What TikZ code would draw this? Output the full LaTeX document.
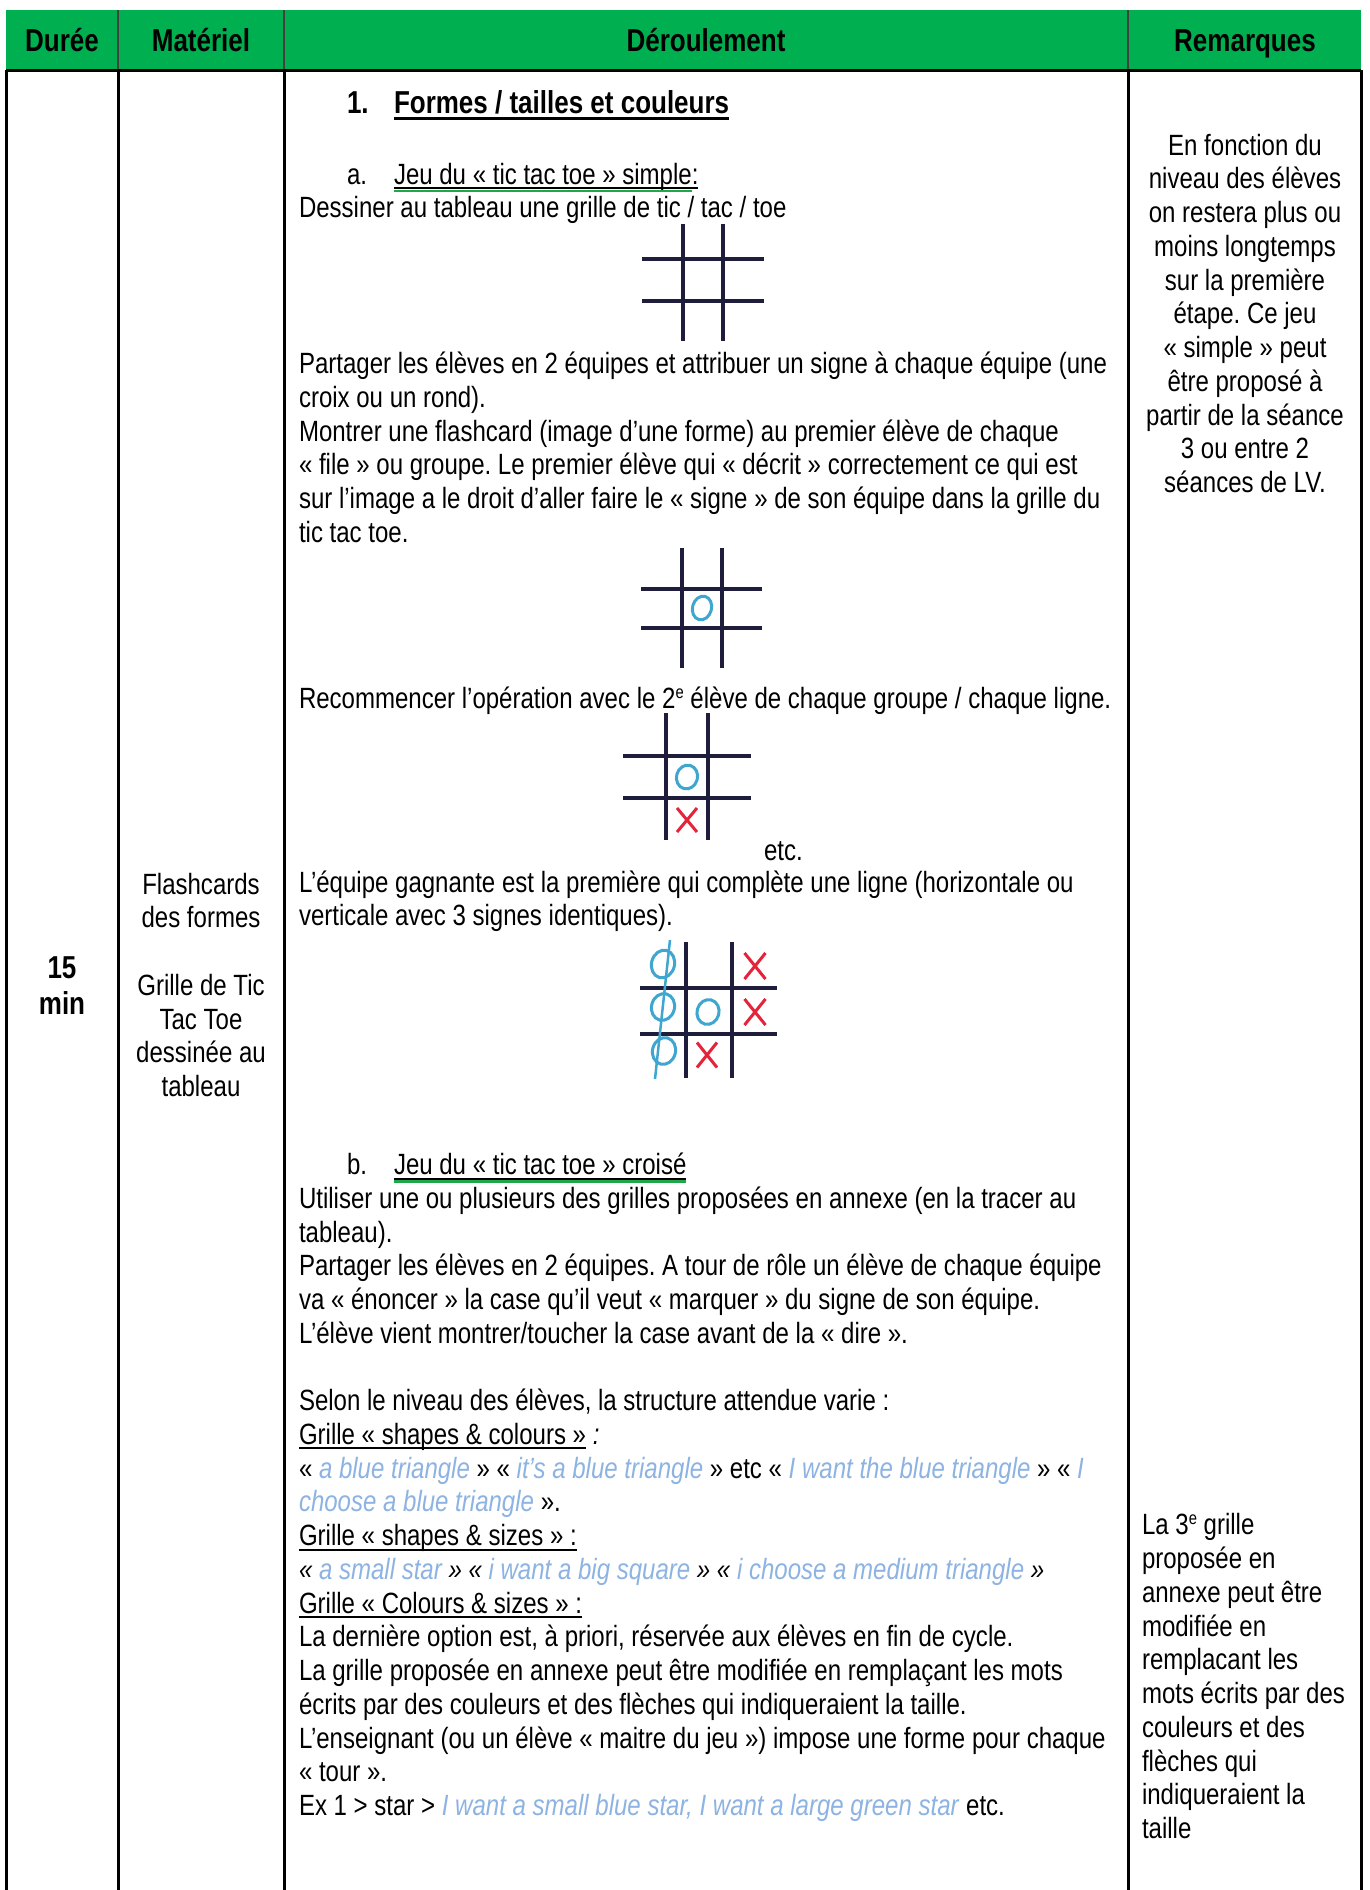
\documentclass[tikz,border=0pt]{standalone}
\usepackage{fontspec}
\setmainfont{Liberation Sans}[FakeStretch=0.82]
\frenchspacing
\definecolor{hdrgreen}{HTML}{00B050}
\definecolor{lblue}{HTML}{8DB3E2}
\definecolor{gridc}{HTML}{1E1E3C}
\definecolor{ringc}{HTML}{3FA6CF}
\definecolor{crossc}{HTML}{E3243B}
\definecolor{squig}{HTML}{1FA84A}
\newcommand\ulx[1]{\setbox0\hbox{#1}\rlap{\vrule width\wd0 height -3pt depth 5pt}\box0}
\newcommand\ulxb[1]{\setbox0\hbox{#1}\rlap{\vrule width\wd0 height -3.5pt depth 6.5pt}\box0}
\newcommand\lbt[1]{\textcolor{lblue}{\textit{#1}}}
\newcommand\supe{\raisebox{10.5pt}{\fontsize{18}{18}\selectfont e}}
\tikzset{
  body/.style={anchor=base west, inner sep=0pt, outer sep=0pt, yshift=-2.5pt, font=\fontsize{29.3}{33.7}\selectfont},
  bodyc/.style={body, anchor=base},
  boldh/.style={anchor=base, inner sep=0pt, outer sep=0pt, yshift=-2.5pt, font=\fontsize{31.7}{36.5}\selectfont\bfseries},
  border/.style={line width=3pt, black},
  hsep/.style={line width=1.2pt, black!75},
  gline/.style={draw=gridc, line width=3.5pt},
  ostyle/.style={draw=ringc, line width=3pt},
  xstyle/.style={draw=crossc, line width=3pt},
  squigline/.style={draw=squig, line width=2.2pt},
  pics/ringmark/.style 2 args={code={\draw[ostyle, rotate=-15] (0,0) ellipse [x radius=#1, y radius=#2];}},
  pics/crossmark/.style 2 args={code={\draw[xstyle] (-#1,-#2) -- (#1,#2) (#1,-#2) -- (-#1,#2);}}
}
\begin{document}
\begin{tikzpicture}[x=1pt,y=-1pt]
\useasboundingbox (0,0) rectangle (1370,1890);
\fill[white] (0,0) rectangle (1370,1890);
% header
\fill[hdrgreen] (6,10) rectangle (1361,70);
\draw[hsep] (118,10) -- (118,70) (284,10) -- (284,70) (1128,10) -- (1128,70);
\node[boldh] (hdur) at (62,48.5) {Durée};
\node[boldh] (hmat) at (201,48.5) {Matériel};
\node[boldh] (hder) at (706,48.5) {Déroulement};
\node[boldh] (hrem) at (1245,48.5) {Remarques};
% table lines
\draw[border] (6,70) -- (1361,70);
\draw[border] (6,70) -- (6,1890) (118,70) -- (118,1890) (284,70) -- (284,1890) (1128,70) -- (1128,1890) (1361,70) -- (1361,1890);
% Durée
\node[boldh] (d15) at (62,976) {15};
\node[boldh] (dmin) at (62,1012) {min};
% Matériel
\node[bodyc] (m1) at (201,891.5) {Flashcards};
\node[bodyc] (m2) at (201,925.2) {des formes};
\node[bodyc] (m3) at (201,992.7) {Grille de Tic};
\node[bodyc] (m4) at (201,1026.5) {Tac Toe};
\node[bodyc] (m5) at (201,1060.2) {dessinée au};
\node[bodyc] (m6) at (201,1094) {tableau};
% Remarques (top)
\foreach \t [count=\i from 0] in {En fonction du,niveau des élèves,on restera plus ou,moins longtemps,sur la première,étape. Ce jeu,« simple » peut,être proposé à,partir de la séance,3 ou entre 2,séances de LV.}
  \node[bodyc] (ra\i) at (1245,152.6+33.74*\i) {\t};
% Remarques (bottom)
\foreach \t [count=\i from 0] in {{La 3\supe{} grille},proposée en,annexe peut être,modifiée en,remplacant les,mots écrits par des,couleurs et des,flèches qui,indiqueraient la,taille}
  \node[body] (rb\i) at (1142,1532.3+33.74*\i) {\t};
% Déroulement - part 1
\node[boldh, anchor=base west] (h1n) at (347,111) {1.};
\node[boldh, anchor=base west] (h1t) at (394,111) {\ulxb{Formes / tailles et couleurs}};
\node[body] (han) at (347,181.5) {a.};
\node[body] (hat) at (394,181.5) {\ulx{Jeu du « tic tac toe » simple}};
\node[body, anchor=base west, yshift=2.5pt] (hac) at (hat.base east) {\ulx{:}};
\draw[squigline] ([yshift=-7pt]hat.base west) -- ([yshift=-7pt]hat.base east);
\node[body] (p0) at (299,215) {Dessiner au tableau une grille de tic / tac / toe};
\node[body] (p1) at (299,371) {Partager les élèves en 2 équipes et attribuer un signe à chaque équipe (une};
\node[body] (p2) at (299,404.7) {croix ou un rond).};
\node[body] (p3) at (299,438.5) {Montrer une flashcard (image d’une forme) au premier élève de chaque};
\node[body] (p4) at (299,472.2) {« file » ou groupe. Le premier élève qui « décrit » correctement ce qui est};
\node[body] (p5) at (299,506) {sur l’image a le droit d’aller faire le « signe » de son équipe dans la grille du};
\node[body] (p6) at (299,539.7) {tic tac toe.};
\node[body] (p7) at (299,706) {Recommencer l’opération avec le 2\supe{} élève de chaque groupe / chaque ligne.};
\node[body] (petc) at (764,858) {etc.};
\node[body] (p8) at (299,890) {L’équipe gagnante est la première qui complète une ligne (horizontale ou};
\node[body] (p9) at (299,923) {verticale avec 3 signes identiques).};
% grid 1
\draw[gline] (683,224) -- (683,341) (723,224) -- (723,341) (642,259) -- (764,259) (642,301) -- (764,301);
% grid 2
\draw[gline] (682,548) -- (682,668) (722,548) -- (722,668) (641,589) -- (762,589) (641,628) -- (762,628);
\pic at (702,608) {ringmark={9.5}{12}};
% grid 3
\draw[gline] (666,713) -- (666,840) (708,713) -- (708,840) (623,756) -- (751,756) (623,798) -- (751,798);
\pic at (687,777) {ringmark={10.5}{12}};
\pic at (687,820) {crossmark={10}{12}};
% grid 4
\draw[gline] (686,942) -- (686,1078) (732,942) -- (732,1078) (640,988) -- (777,988) (640,1034) -- (777,1034);
\pic at (663,964) {ringmark={11.5}{14}};
\pic at (663,1007) {ringmark={11.5}{13.5}};
\pic at (664,1051) {ringmark={11.5}{13.5}};
\pic at (708,1012) {ringmark={11}{12.5}};
\pic at (755,966) {crossmark={10.5}{13}};
\pic at (755,1012) {crossmark={10.5}{13}};
\pic at (707,1055) {crossmark={10}{12.5}};
\draw[ostyle, line width=2.5pt] (670,940) -- (655,1079);
% Déroulement - part b
\node[body] (hbn) at (347,1172) {b.};
\node[body] (hbt) at (394,1172) {\ulx{Jeu du « tic tac toe » croisé}};
\draw[squigline] ([yshift=-7pt]hbt.base west) -- ([yshift=-7pt]hbt.base east);
\node[body] (q1) at (299,1205.7) {Utiliser une ou plusieurs des grilles proposées en annexe (en la tracer au};
\node[body] (q2) at (299,1239.5) {tableau).};
\node[body] (q3) at (299,1273.2) {Partager les élèves en 2 équipes. A tour de rôle un élève de chaque équipe};
\node[body] (q4) at (299,1307) {va « énoncer » la case qu’il veut « marquer » du signe de son équipe.};
\node[body] (q5) at (299,1340.7) {L’élève vient montrer/toucher la case avant de la « dire ».};
\node[body] (q7) at (299,1408.2) {Selon le niveau des élèves, la structure attendue varie :};
\node[body] (q8) at (299,1441.9) {\ulx{Grille « shapes \& colours »}\textit{ :}};
\node[body] (q9) at (299,1475.7) {« \lbt{a blue triangle} » « \lbt{it’s a blue triangle} » etc « \lbt{I want the blue triangle} » « \lbt{I}};
\node[body] (q10) at (299,1509.4) {\lbt{choose a blue triangle} ».};
\node[body] (q11) at (299,1543.1) {\ulx{Grille « shapes \& sizes » :}};
\node[body] (q12) at (299,1576.9) {\textit{« \lbt{a small star} » « \lbt{i want a big square} » « \lbt{i choose a medium triangle} »}};
\node[body] (q13) at (299,1610.6) {\ulx{Grille « Colours \& sizes » :}};
\node[body] (q14) at (299,1644.4) {La dernière option est, à priori, réservée aux élèves en fin de cycle.};
\node[body] (q15) at (299,1678.1) {La grille proposée en annexe peut être modifiée en remplaçant les mots};
\node[body] (q16) at (299,1711.8) {écrits par des couleurs et des flèches qui indiqueraient la taille.};
\node[body] (q17) at (299,1745.6) {L’enseignant (ou un élève « maitre du jeu ») impose une forme pour chaque};
\node[body] (q18) at (299,1779.3) {« tour ».};
\node[body] (q19) at (299,1813) {Ex 1 > star > \lbt{I want a small blue star, I want a large green star} etc.};
\end{tikzpicture}
\end{document}
